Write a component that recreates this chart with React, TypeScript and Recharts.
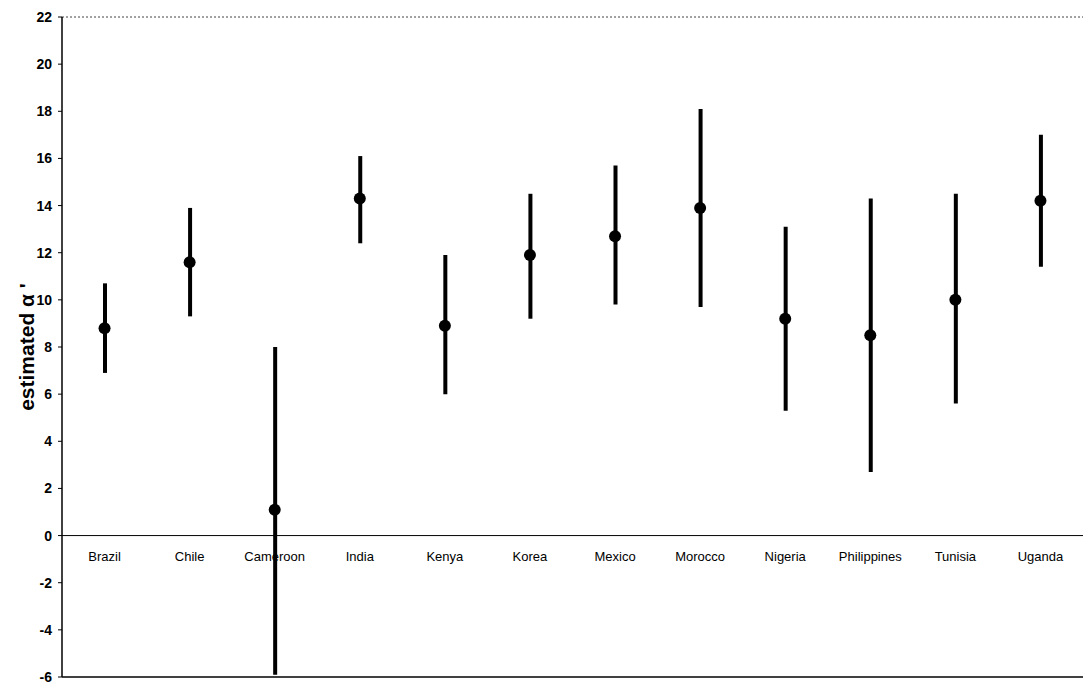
import React from 'react';
import {
  ComposedChart,
  Bar,
  Line,
  XAxis,
  YAxis,
  ReferenceLine,
  LabelList,
} from 'recharts';

const categories = [
  'Brazil',
  'Chile',
  'Cameroon',
  'India',
  'Kenya',
  'Korea',
  'Mexico',
  'Morocco',
  'Nigeria',
  'Philippines',
  'Tunisia',
  'Uganda',
];
const estimates = [8.8, 11.6, 1.1, 14.3, 8.9, 11.9, 12.7, 13.9, 9.2, 8.5, 10.0, 14.2];
const lower = [6.9, 9.3, -5.9, 12.4, 6.0, 9.2, 9.8, 9.7, 5.3, 2.7, 5.6, 11.4];
const upper = [10.7, 13.9, 8.0, 16.1, 11.9, 14.5, 15.7, 18.1, 13.1, 14.3, 14.5, 17.0];
const yTicks = [-6, -4, -2, 0, 2, 4, 6, 8, 10, 12, 14, 16, 18, 20, 22];

const data = categories.map((name, i) => ({
  name,
  est: estimates[i],
  range: [lower[i], upper[i]],
  base: 0,
}));

const font = '"Liberation Sans", Arial, sans-serif';

export default function App() {
  return (
    <div style={{ position: 'absolute', left: 0, top: 0, width: 1083, height: 685, background: '#fff' }}>
      <ComposedChart
        width={1083}
        height={685}
        data={data}
        margin={{ top: 17, right: 0, bottom: 7, left: 0 }}
      >
        <XAxis
          dataKey="name"
          height={1}
          tick={false}
          tickLine={false}
          axisLine={{ stroke: '#000', strokeWidth: 1.5 }}
        />
        <YAxis
          width={62}
          domain={[-6, 22]}
          ticks={yTicks}
          interval={0}
          tickSize={4}
          tickMargin={6}
          axisLine={{ stroke: '#000', strokeWidth: 1.5 }}
          tickLine={{ stroke: '#000' }}
          tick={{ fill: '#000', fontSize: 14, fontWeight: 'bold', fontFamily: font }}
          label={{
            value: "estimated \u03b1 '",
            angle: -90,
            position: 'insideLeft',
            offset: 27,
            style: { textAnchor: 'middle', fontSize: 21, fontWeight: 'bold', fill: '#000', fontFamily: font },
          }}
        />
        <ReferenceLine y={22} stroke="#444" strokeDasharray="2 2" />
        <ReferenceLine y={0} stroke="#000" strokeWidth={1} />
        <Bar dataKey="range" barSize={4} fill="#000" isAnimationActive={false} />
        <Line
          dataKey="base"
          stroke="none"
          dot={false}
          activeDot={false}
          isAnimationActive={false}
        >
          <LabelList
            dataKey="name"
            position="bottom"
            offset={16}
            style={{ fontSize: 13, fill: '#000', fontFamily: font }}
          />
        </Line>
        <Line
          dataKey="est"
          stroke="none"
          dot={{ r: 6, fill: '#000', stroke: 'none' }}
          activeDot={false}
          isAnimationActive={false}
        />
      </ComposedChart>
    </div>
  );
}
